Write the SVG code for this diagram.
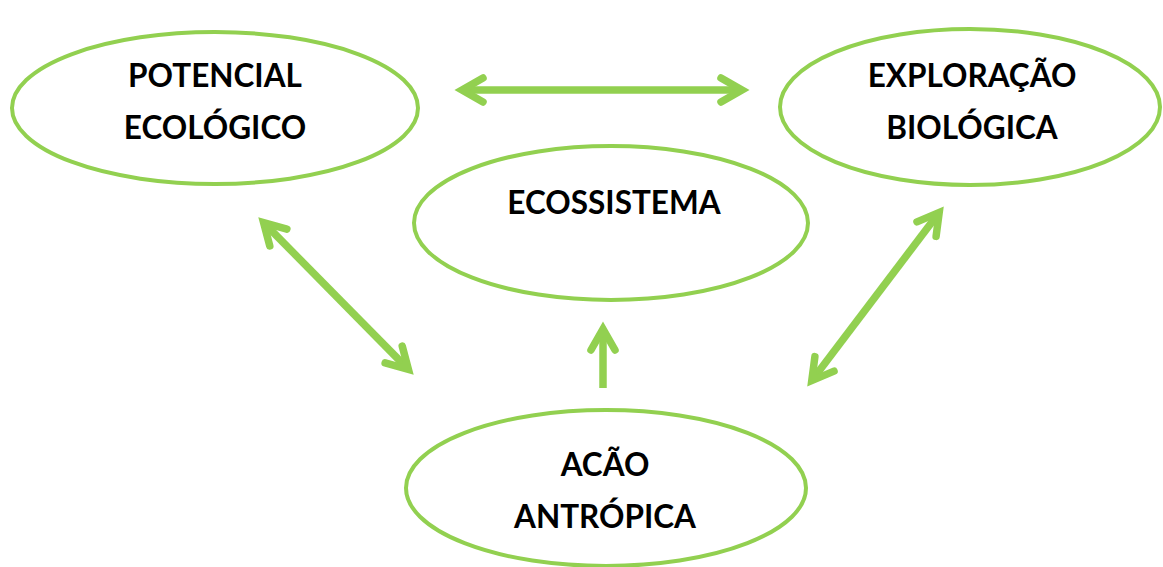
<svg xmlns="http://www.w3.org/2000/svg" width="1163" height="567" viewBox="0 0 1163 567">
<style>
.node{fill:#fff;stroke:#92D050;stroke-width:4}
.lbl{font-family:Lato,"Liberation Sans",sans-serif;font-weight:bold;font-size:31.5px;fill:#000;text-anchor:middle}
.conn{fill:none;stroke:#92D050;stroke-width:7.5}
</style>
<defs>
<marker id="head" markerUnits="userSpaceOnUse" orient="auto-start-reverse" refX="0" refY="0" markerWidth="60" markerHeight="60" overflow="visible">
<path d="M-19,-12 L2,0 L-19,12" fill="none" stroke="#92D050" stroke-width="7.5" stroke-linecap="round" stroke-linejoin="miter"/>
</marker>
</defs>
<rect width="1163" height="567" fill="#fff"/>
<g id="potencial">
<ellipse class="node" cx="215" cy="108" rx="203" ry="76"/>
<text class="lbl" x="215" y="87">POTENCIAL</text>
<text class="lbl" x="215" y="139">ECOLÓGICO</text>
</g>
<g id="exploracao">
<ellipse class="node" cx="970" cy="107" rx="190" ry="78"/>
<text class="lbl" x="972" y="87">EXPLORAÇÃO</text>
<text class="lbl" x="972" y="139">BIOLÓGICA</text>
</g>
<g id="ecossistema">
<ellipse class="node" cx="611" cy="223" rx="197" ry="77"/>
<text class="lbl" x="614" y="214">ECOSSISTEMA</text>
</g>
<g id="acao">
<ellipse class="node" cx="606" cy="488" rx="200" ry="78"/>
<text class="lbl" x="605" y="476">ACÃO</text>
<text class="lbl" x="605" y="528">ANTRÓPICA</text>
</g>
<g id="connectors">
<path class="conn" d="M464,90 L740,90" marker-start="url(#head)" marker-end="url(#head)"/>
<path class="conn" d="M265,224 L407,368" marker-start="url(#head)" marker-end="url(#head)"/>
<path class="conn" d="M938,214 L813,379" marker-start="url(#head)" marker-end="url(#head)"/>
<path class="conn" d="M603,388 L603,331" marker-end="url(#head)"/>
</g>
</svg>
